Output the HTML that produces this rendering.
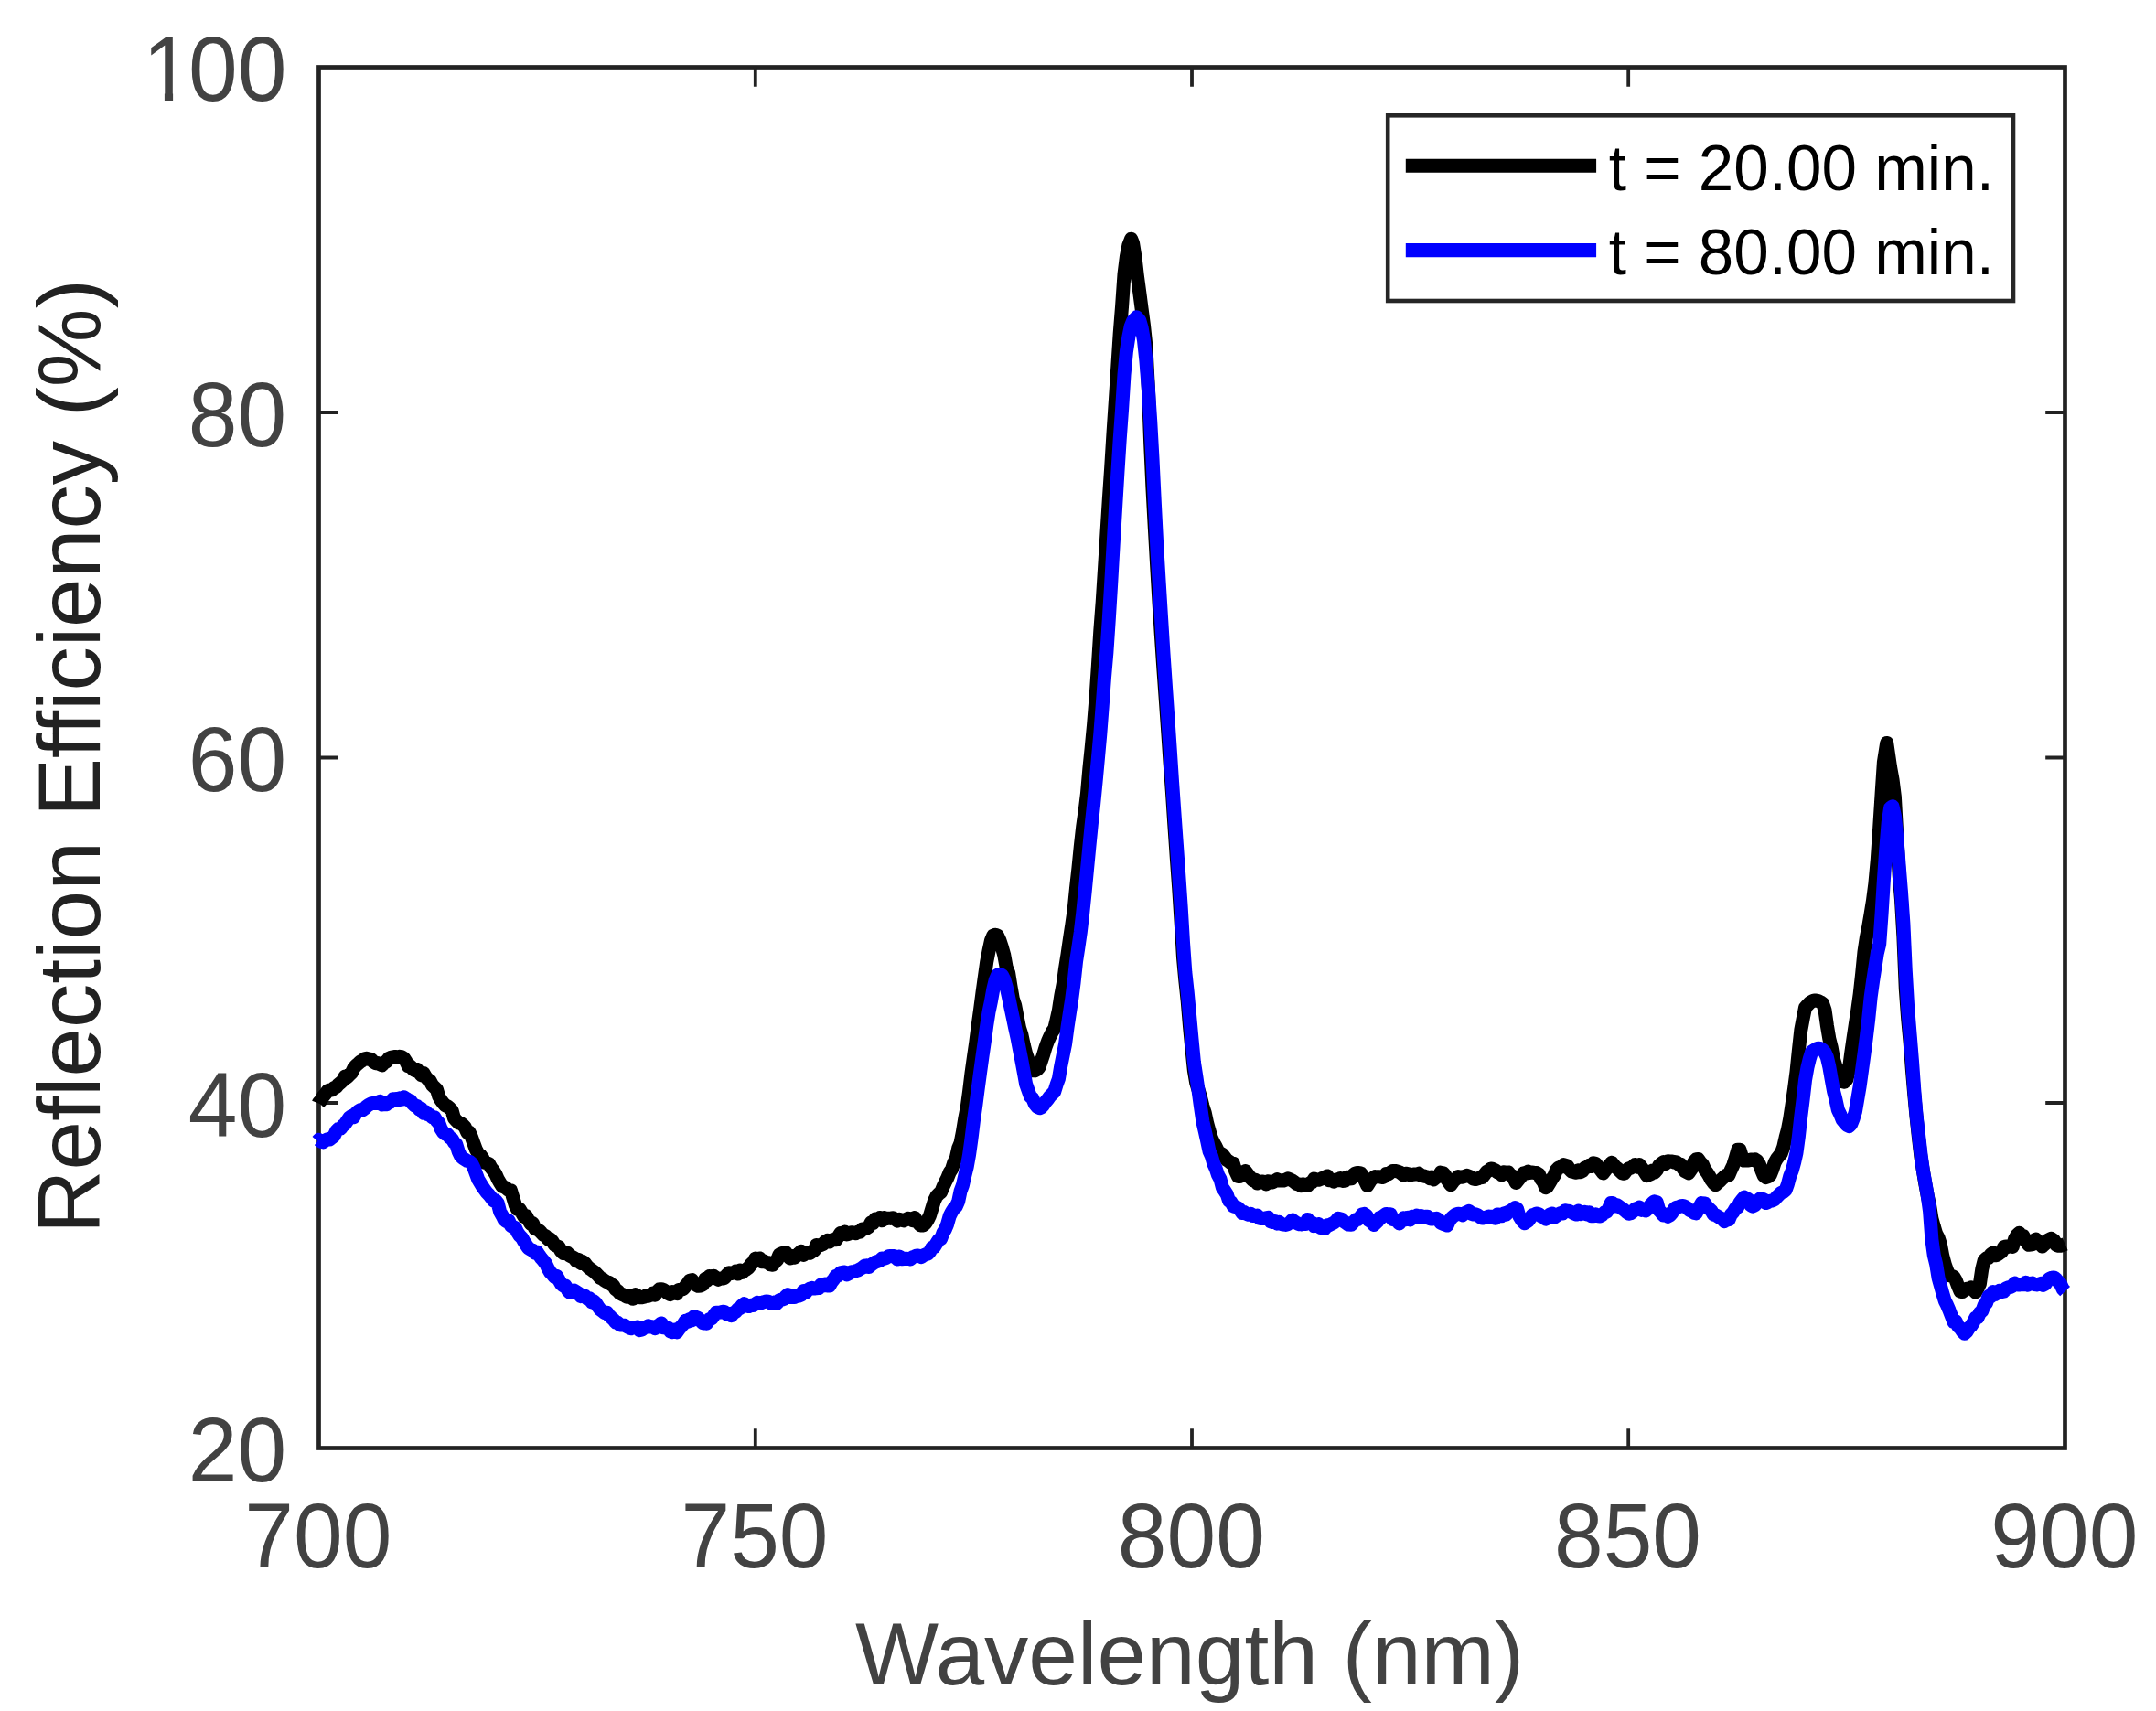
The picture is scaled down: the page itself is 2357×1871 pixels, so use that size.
<!DOCTYPE html>
<html lang="en"><head><meta charset="utf-8"><title>Reflection Efficiency vs Wavelength</title>
<style>
html,body{margin:0;padding:0;background:#fff;}
body{width:2357px;height:1871px;overflow:hidden;}
svg{display:block;}
text{font-family:"Liberation Sans",sans-serif;font-variant-ligatures:none;font-kerning:normal;}
.tk{font-size:96.5px;fill:#424242;}
.lg{font-size:69.2px;fill:#000;}
</style></head><body>
<svg width="2357" height="1871" viewBox="0 0 2357 1871">
<rect x="0" y="0" width="2357" height="1871" fill="#ffffff"/>

<rect x="348.5" y="73.5" width="1909.0" height="1510.0" fill="none" stroke="#222222" stroke-width="4.7"/>
<path d="M825.8,1583.5 v-21.3 M825.8,73.5 v21.3 M1303.0,1583.5 v-21.3 M1303.0,73.5 v21.3 M1780.2,1583.5 v-21.3 M1780.2,73.5 v21.3 M348.5,1206.0 h21.3 M2257.5,1206.0 h-21.3 M348.5,828.5 h21.3 M2257.5,828.5 h-21.3 M348.5,451.0 h21.3 M2257.5,451.0 h-21.3" fill="none" stroke="#222222" stroke-width="3.8"/>
<text class="tk" transform="translate(313.2,1620.0) scale(1,1.04)" text-anchor="end">20</text>
<text class="tk" transform="translate(313.2,1242.5) scale(1,1.04)" text-anchor="end">40</text>
<text class="tk" transform="translate(313.2,865.0) scale(1,1.04)" text-anchor="end">60</text>
<text class="tk" transform="translate(313.2,487.5) scale(1,1.04)" text-anchor="end">80</text>
<text class="tk" transform="translate(314,109.8) scale(1,1.04)" x="-158 -107.95 -54.28">100</text>
<path d="M158,101.6H179.9V112H158Z M189.1,101.6H208V112H189.1Z" fill="#ffffff"/>
<text class="tk" transform="translate(347.8,1713.7) scale(1,1.04)" text-anchor="middle">700</text>
<text class="tk" transform="translate(825.0,1713.7) scale(1,1.04)" text-anchor="middle">750</text>
<text class="tk" transform="translate(1302.3,1713.7) scale(1,1.04)" text-anchor="middle">800</text>
<text class="tk" transform="translate(1779.5,1713.7) scale(1,1.04)" text-anchor="middle">850</text>
<text class="tk" transform="translate(2256.8,1713.7) scale(1,1.04)" text-anchor="middle">900</text>
<text x="1300.5" y="1841.7" text-anchor="middle" font-size="96.5" fill="#424242">Wavelength (nm)</text>
<text transform="translate(108.8,827.2) rotate(-90)" text-anchor="middle" font-size="96.5" fill="#222222">Reflection Efficiency (%)</text>
<path d="M348.2,1206.5 L348.5,1205.7 L350.9,1203.2 L353.3,1199.1 L355.7,1196.2 L358.1,1193 L360.4,1192 L362.8,1192 L365.2,1189.6 L367.6,1188.7 L370,1185.8 L372.4,1183.9 L374.8,1181.6 L377.1,1177.1 L379.5,1178.1 L381.9,1175.4 L384.3,1173.2 L386.7,1168.1 L389.1,1165.2 L391.4,1163.3 L393.8,1161.1 L396.2,1159.7 L398.6,1157.8 L400.8,1157.3 L403.4,1158.5 L405.8,1158.3 L408.2,1161.1 L410.5,1162.7 L412.9,1162.5 L414.8,1163.6 L417.7,1164.8 L420.1,1161.8 L422.5,1160.9 L424.9,1157.5 L427.2,1156.3 L429.6,1155.8 L432,1155.4 L434.4,1155.8 L436.8,1155.3 L439.2,1155.7 L441.6,1157.3 L443.9,1160.7 L446.3,1165.8 L448.7,1165.8 L451.1,1168.9 L453.5,1170.6 L455.9,1169.4 L458.3,1172.7 L460.6,1175.7 L463,1173.4 L465.4,1177.7 L467.8,1180.3 L470.2,1182.1 L472.6,1186.6 L475,1189 L477.4,1191.2 L479.7,1198.9 L482.1,1203.1 L484.5,1206.3 L486.9,1209 L489.3,1209.7 L491.7,1211.9 L494.1,1214.4 L496.4,1222.5 L498.8,1225.3 L501.2,1227.8 L503.6,1228.3 L506,1230.1 L508.4,1232.7 L510.8,1238.2 L513.1,1238.2 L515.5,1243.6 L517.9,1250.3 L520.3,1256.9 L522.7,1261.3 L525.1,1263 L527.5,1266.2 L529.9,1271.4 L532.2,1271.7 L534.6,1272.7 L537,1277.2 L539.4,1280.1 L541.8,1283.8 L544.2,1289.3 L546.6,1293.4 L549,1297.3 L551.3,1298 L553.7,1299.6 L556.1,1301.7 L558.5,1301.8 L560.9,1309.9 L563.3,1317.8 L565.6,1322.3 L568,1322.2 L570.4,1326.2 L572.8,1330.3 L575.2,1329.5 L577.6,1334.1 L580,1338 L582.4,1337.5 L584.7,1343.5 L587.1,1344.4 L589.5,1345.6 L591.9,1348.2 L594.3,1350.6 L596.7,1351.8 L599.1,1355 L601.4,1354.8 L603.8,1357.2 L606.2,1361.4 L608.6,1362.5 L611,1363.6 L613.4,1368.1 L615.8,1370.6 L618.1,1369.9 L620.5,1370.2 L622.9,1373.1 L625.3,1374.4 L627.7,1375.5 L630.1,1379 L632.5,1377.3 L634.9,1381.4 L637.2,1379.5 L639.6,1381.5 L642,1384.7 L644.4,1387 L646.8,1388.6 L649.2,1390.3 L651.5,1392.4 L653.9,1394.8 L656.3,1397.5 L658.7,1398.4 L661.1,1400.4 L663.5,1401.9 L665.9,1402.4 L668.3,1404.6 L670.6,1405.9 L673,1410 L675.4,1411.7 L677.8,1414.3 L680.2,1415.5 L682.6,1416.5 L685,1418.2 L687.4,1417 L689.7,1418.2 L692.1,1420.3 L694.5,1415.6 L696.9,1416.9 L699.3,1418.7 L701.7,1418.8 L704,1418.2 L706.4,1416.8 L708.8,1417.3 L711.2,1415.9 L713.6,1414 L716,1416.2 L718.4,1412.4 L720.8,1409.8 L723.4,1409.8 L725.5,1410.4 L727.9,1412.2 L730.3,1414.5 L732.8,1415.6 L735.1,1412.7 L737.5,1413.9 L739.9,1414.6 L742.2,1410.4 L744.6,1410.1 L747,1409.6 L749.4,1406.4 L751.8,1403.6 L753.8,1400.4 L756.5,1399.5 L758.9,1403.3 L761.3,1405.3 L763.2,1406.3 L766.1,1406 L768.5,1404.7 L770.9,1398.3 L773.2,1400.1 L775.6,1395.4 L778,1397.8 L780.4,1395.3 L782.8,1397.7 L785.2,1399.3 L787.6,1397.9 L790,1398.1 L792.3,1397.3 L794.7,1394.1 L797.1,1391.7 L799.5,1392.5 L801.9,1391.8 L804.3,1390.1 L806.7,1393.1 L809,1389.1 L811.4,1391.6 L813.8,1389.3 L816.2,1387.9 L818.6,1386 L821,1382.6 L823.4,1380.6 L825.8,1376.1 L828.1,1377.3 L830.5,1375.9 L832.9,1379.6 L835.3,1379 L837.7,1380.3 L840.1,1380.7 L842.1,1382.9 L844.8,1383.2 L847.2,1380 L849.6,1377.8 L852,1371.7 L854.4,1370.8 L856.1,1370.3 L859.2,1369.8 L861.5,1373.7 L863.9,1376 L866.3,1373.4 L868.7,1375.3 L871.1,1372.8 L873.5,1370.6 L875.9,1368.2 L878.2,1372.4 L880.6,1370.4 L883,1369.6 L885.4,1370.4 L887.8,1368.7 L890.2,1367.4 L892.6,1361.5 L895,1362.2 L897.3,1361.5 L899.7,1360.5 L902.1,1357.8 L904.5,1356.4 L906.9,1357.9 L909.3,1356.1 L911.7,1355.3 L914,1355.8 L916.4,1352.3 L918.8,1348.6 L921.2,1349.5 L923.6,1346.9 L926,1349.9 L928.4,1349.1 L930.8,1347.7 L933.1,1348.2 L935.5,1348.7 L937.9,1346.9 L940.3,1347.3 L942.7,1344.1 L945.1,1344.1 L947.5,1343.2 L949.8,1341.6 L952.2,1337 L954.6,1337.4 L957,1332.9 L959.4,1333.2 L961.8,1331.5 L964.1,1334.8 L966.5,1331.5 L968.9,1332.7 L971.3,1332.2 L973.7,1332.4 L976.1,1331.7 L978.5,1332.9 L980.9,1335.2 L983.2,1333.3 L985.6,1334.2 L988,1334.9 L990.4,1333.6 L992.8,1332.2 L995.2,1332.8 L997.6,1334.7 L1000,1331.5 L1002.3,1335.4 L1006.2,1340 L1009.5,1339.9 L1011.9,1337.6 L1014.3,1333.7 L1016.6,1328.9 L1019,1321 L1021.4,1313.1 L1023.8,1308.2 L1026.2,1305.6 L1028.6,1303.8 L1031,1297.7 L1033.3,1292.9 L1035.7,1288.3 L1038.1,1282.2 L1040.5,1278.5 L1042.9,1271.1 L1045.3,1266.4 L1047.7,1255.7 L1050.1,1249.8 L1052.4,1238 L1054.8,1223.2 L1057.2,1210.9 L1059.6,1193.3 L1062,1173.3 L1064.4,1156.4 L1066.8,1139.9 L1069.2,1121 L1071.5,1104.6 L1073.9,1086.1 L1076.3,1068.8 L1078.7,1051.9 L1081.1,1039.5 L1083.5,1028.4 L1085.8,1023 L1088.2,1022.2 L1090.6,1023.2 L1093,1028.6 L1095.4,1035.9 L1097.8,1044.6 L1100.2,1057.9 L1102.6,1063.8 L1104.9,1078.1 L1107.3,1092 L1109.7,1099.3 L1112.1,1112 L1114.5,1123.9 L1116.9,1131.5 L1119.3,1142.7 L1121.7,1152.4 L1124,1158.8 L1126.4,1166.2 L1128.8,1170.7 L1131.2,1170.9 L1133.6,1169.8 L1136,1167 L1138.3,1160.3 L1140.7,1153.2 L1143.1,1145 L1145.5,1138.5 L1147.9,1133.1 L1150.3,1128.3 L1152.7,1125.1 L1155,1115.4 L1157.4,1104.7 L1159.8,1088.8 L1162.2,1076.2 L1164.6,1058.6 L1167,1043.6 L1169.4,1027 L1171.8,1011.3 L1174.1,995.2 L1176.5,971.2 L1178.9,949.7 L1181.3,925.6 L1183.7,904 L1186.1,887.1 L1188.5,867.5 L1190.8,841.2 L1193.2,817.8 L1195.6,792.4 L1198,763 L1200.4,727.8 L1202.8,689.7 L1205.2,658.3 L1207.5,622.4 L1209.9,584.1 L1212.3,546.3 L1214.7,511.1 L1217.1,472.2 L1219.5,436.6 L1221.9,399.7 L1224.2,364.5 L1226.6,334.6 L1229,300 L1231.4,280.7 L1233.8,268.5 L1236.6,261.2 L1238.6,266.1 L1241,281.1 L1243.3,301.3 L1245.7,319.2 L1248.1,337.6 L1250.5,355.8 L1252.9,378.2 L1255.3,423 L1257.7,485.8 L1260,534.6 L1262.4,578.8 L1264.8,621.1 L1267.2,661.2 L1269.6,698.1 L1272,733.2 L1274.4,766.6 L1276.8,800.8 L1279.1,834.4 L1281.5,867 L1283.9,903.1 L1286.3,938.1 L1288.7,971 L1291.1,1008 L1293.5,1047.3 L1295.8,1072.1 L1298.2,1094.6 L1300.6,1123.1 L1303,1147.7 L1305.4,1170.7 L1307.8,1184.6 L1310.2,1192.2 L1312.5,1199.7 L1314.9,1209.4 L1317.3,1217 L1319.7,1228.2 L1322.1,1237 L1324.5,1244.7 L1326.9,1249.9 L1329.2,1253.8 L1331.6,1259 L1334,1260.9 L1336.4,1262.3 L1338.8,1265.2 L1341.2,1268.6 L1343.6,1270 L1346,1272.1 L1348.3,1272.3 L1350.7,1280.6 L1353.4,1286.4 L1355.5,1286.4 L1357.9,1282.7 L1361.6,1280.6 L1365,1285.2 L1367.4,1288.4 L1369.8,1291 L1372.2,1290.4 L1374.6,1293.9 L1377,1293.3 L1379.4,1291.9 L1381.8,1292.4 L1384.1,1294.9 L1386.5,1291.7 L1388.9,1293.1 L1391.3,1293 L1393.7,1291.5 L1396.1,1289.7 L1398.5,1291 L1400.8,1290.7 L1403.2,1291.1 L1405.6,1290.1 L1408,1288.8 L1410.4,1289.9 L1412.8,1291 L1415.2,1292.8 L1417.5,1294.6 L1419.9,1295 L1422.3,1296.7 L1424.7,1294.9 L1427.1,1295.6 L1429.5,1296.5 L1431.9,1293.7 L1434.2,1293 L1436.6,1289.1 L1439,1289.7 L1441.4,1290.3 L1443.8,1289.5 L1446.2,1288.1 L1448.6,1287.4 L1451,1285.9 L1453.3,1290.7 L1455.7,1290.3 L1458.1,1292.2 L1460.5,1290 L1462.9,1290.8 L1465.3,1288.5 L1467.7,1291.4 L1470,1291.3 L1472.4,1287.3 L1474.8,1289.1 L1477.2,1288.8 L1479.6,1284.4 L1482,1282.8 L1484.4,1282.4 L1487.8,1282.9 L1491.5,1289.5 L1494.8,1296.5 L1498.7,1290.3 L1501.1,1288.1 L1503.5,1286.6 L1505.8,1286.8 L1508.2,1286.7 L1510.6,1287.6 L1513,1287 L1515.4,1283.6 L1517.8,1284 L1520.2,1282 L1522.5,1280.5 L1526.4,1280.6 L1529.7,1281.6 L1532.1,1283.2 L1534.5,1285.2 L1536.8,1283.2 L1539.2,1283.6 L1541.6,1284.9 L1544,1284.4 L1546.4,1284 L1548.8,1284.1 L1551.2,1283.2 L1553.6,1285.4 L1555.9,1285.8 L1558.3,1286.5 L1560.7,1287 L1563.1,1288.7 L1565.5,1287.1 L1567.3,1289.9 L1570.3,1287.3 L1572.7,1286.3 L1575,1282.2 L1577.8,1282.9 L1579.8,1285.1 L1582.2,1290.2 L1586,1295.8 L1589.3,1291.3 L1591.7,1289.3 L1594.1,1286.5 L1596.5,1287 L1598.9,1287.2 L1601.3,1286.4 L1603.7,1285.3 L1606,1286.3 L1608.4,1287.2 L1610.8,1289.2 L1613.2,1289.6 L1615.6,1288.9 L1618,1287.8 L1620.4,1287.5 L1622.8,1284.5 L1625.1,1281.4 L1627.5,1280.1 L1629.9,1278 L1631.6,1278.2 L1634.7,1279.7 L1637.1,1282 L1639.5,1281.9 L1641.8,1284.9 L1644.2,1281.7 L1646.6,1283.2 L1649,1281.9 L1651.4,1285.2 L1653.8,1286.1 L1657.3,1293.4 L1660.9,1289 L1663.3,1286 L1665.7,1282.8 L1668.1,1283.2 L1670.5,1281.1 L1672.9,1282.4 L1675.3,1282 L1677.6,1282.6 L1680,1282.5 L1682.4,1284.2 L1684.8,1289.5 L1687.2,1292.4 L1689.6,1298.7 L1691.2,1298.1 L1694.3,1293 L1696.7,1288.9 L1699.1,1285.5 L1701.5,1279.3 L1703.9,1277 L1706.3,1276.3 L1709.4,1273.6 L1711,1274.1 L1713.4,1274.9 L1715.8,1278.6 L1718.2,1281.2 L1721,1281.7 L1723,1282.3 L1725.4,1279.7 L1727.8,1281.7 L1730.1,1280.4 L1732.5,1277.2 L1734.9,1276.4 L1737.3,1274.3 L1739.7,1275.4 L1742.1,1271.9 L1744.4,1272.4 L1746.8,1275.5 L1749.2,1278.4 L1752.6,1282.9 L1756.4,1277.9 L1758.8,1275.3 L1762,1271.2 L1765.9,1276 L1768.3,1277.8 L1770.7,1280.2 L1773.6,1282.9 L1775.5,1283.3 L1777.9,1280.2 L1780.2,1278 L1782.6,1277.3 L1785,1275.9 L1787.4,1273.4 L1789.8,1276.3 L1792.2,1273.6 L1794.6,1276.7 L1797,1280 L1800.5,1285.7 L1804.1,1284.2 L1806.5,1280 L1808.9,1282.1 L1811.3,1279.5 L1813.7,1274.6 L1816,1272.5 L1818.4,1270.7 L1820.8,1272.7 L1823.2,1269.7 L1825.6,1269.9 L1828,1270 L1830.4,1271 L1832.8,1270.8 L1835.1,1273.4 L1837.5,1273.3 L1839.9,1277.7 L1842.3,1280.9 L1846.1,1282.9 L1849.5,1277.9 L1851.8,1270.7 L1854.3,1267.7 L1856.6,1267.5 L1859,1271.2 L1861.4,1273.5 L1863.8,1279.1 L1866.2,1282.1 L1868.5,1285.9 L1870.9,1290.4 L1873.3,1293.7 L1875.4,1295.8 L1878.1,1293.2 L1880.5,1291.2 L1882.9,1288.8 L1885.2,1286.6 L1887.6,1284.9 L1890,1285 L1892.4,1279.2 L1894.8,1274.1 L1897.2,1266.4 L1899.9,1257.2 L1902,1257.3 L1904.3,1264.7 L1906.7,1269.1 L1909.1,1269 L1911.5,1269.1 L1913.9,1267.9 L1916.3,1268.4 L1918.7,1267.8 L1921,1269.4 L1923.4,1273.2 L1925.8,1279.8 L1928.2,1285.5 L1930.6,1287.6 L1933,1286.7 L1935.4,1284.8 L1937.7,1279 L1940.1,1271.4 L1942.5,1267.1 L1944.9,1264 L1947.3,1261.1 L1949.7,1254.4 L1952.1,1243.8 L1954.5,1235 L1956.8,1222.9 L1959.2,1206.9 L1961.6,1190.3 L1964,1171.9 L1966.4,1148.6 L1968.8,1126.5 L1971.2,1113.7 L1973.5,1102 L1975.9,1099.2 L1978.3,1096.7 L1980.7,1095 L1983.1,1094.1 L1985.5,1094.1 L1987.8,1094.6 L1990.2,1095.7 L1992.6,1097.4 L1995,1104.4 L1997.4,1121.4 L1999.8,1135.8 L2002.2,1145.4 L2004.6,1158.6 L2006.9,1165.9 L2009.3,1172.5 L2011.7,1178.4 L2014.1,1182.6 L2016.5,1183.2 L2018.9,1180.4 L2021.3,1170 L2023.7,1151.7 L2026,1135.9 L2028.4,1119.9 L2030.8,1104.3 L2033.2,1087 L2035.6,1065.3 L2038,1040.8 L2040.3,1025.5 L2042.7,1013.6 L2045.1,999.4 L2047.5,984.8 L2049.9,966.3 L2052.3,940.3 L2054.7,905.2 L2057.1,868 L2059.4,833.3 L2062.7,812.4 L2066.6,839.1 L2069,852.3 L2071.4,871.3 L2073.8,913.6 L2076.2,957.2 L2078.5,983.9 L2080.9,1024.4 L2083.3,1081.6 L2085.7,1114.1 L2088.1,1139.6 L2090.5,1171 L2092.8,1197.4 L2095.2,1222.5 L2097.6,1245 L2100,1265.5 L2102.4,1280.1 L2104.8,1294.5 L2107.2,1307.4 L2109.6,1318.3 L2111.9,1332.4 L2114.3,1341.2 L2116.7,1349.2 L2119.1,1353.6 L2121.5,1361.1 L2123.9,1373.8 L2126.3,1382.7 L2128.6,1389.3 L2131,1394.9 L2133.4,1395.1 L2135.8,1396.1 L2138.2,1399.9 L2140.6,1406.4 L2143,1412.1 L2145.3,1412.6 L2147.7,1410.5 L2150.1,1409.3 L2152.5,1409.2 L2154.9,1407.8 L2157.3,1410 L2159.7,1413 L2162.1,1408.8 L2164.4,1403.8 L2166.8,1387.5 L2169.2,1378.1 L2171.6,1376 L2174,1375.6 L2176.4,1371.8 L2178.8,1370 L2181.1,1372.8 L2183.5,1372.3 L2185.9,1370.5 L2188.3,1369 L2190.7,1363.7 L2193.1,1362.9 L2195.5,1363.4 L2197.8,1362.4 L2200.2,1363.4 L2202.6,1354.9 L2205,1350.6 L2207.4,1348.3 L2209.8,1352.5 L2212.2,1351.9 L2214.6,1356.9 L2217.8,1361.3 L2221.7,1360.8 L2224.1,1355.8 L2225.7,1355.1 L2228.9,1358.2 L2232.7,1363 L2236,1360 L2238.4,1356.4 L2242.3,1354.3 L2245.6,1356.5 L2248,1361.5 L2250.3,1362.2 L2252.7,1362.2 L2255.1,1361.5 L2257.6,1360.4" fill="none" stroke="#000000" stroke-width="15" stroke-linejoin="round" stroke-linecap="butt"/>
<path d="M347.2,1247.8 L348.5,1246.3 L350.9,1248.2 L353.3,1248.9 L355.7,1247 L358.1,1245.8 L360.4,1245.9 L362.8,1244.1 L365.2,1242.2 L367.6,1236.9 L370,1234.3 L372.4,1234.1 L374.8,1231 L377.1,1229.3 L379.5,1225.8 L381.9,1222.2 L384.3,1220.3 L386.7,1221.7 L389.1,1217.3 L391.4,1215.3 L393.8,1213.7 L396.2,1213.9 L398.6,1212.3 L401,1209.7 L403.4,1208.1 L405.8,1206.8 L408.2,1206.3 L410.5,1206.6 L412.9,1206 L415.3,1204.2 L417.7,1208.1 L420.1,1206.1 L422.5,1207.7 L424.9,1205 L427.2,1204.9 L429.6,1201.8 L432,1201.6 L434.4,1203.6 L436.8,1201 L439.2,1202.2 L441.6,1199.7 L443.9,1201.2 L446.3,1202.9 L448.7,1203.7 L451.1,1206.9 L453.5,1209.1 L455.9,1209.5 L458.3,1213 L460.6,1212.6 L463,1217.3 L465.4,1215.7 L467.8,1218.7 L470.2,1219.3 L472.6,1221.9 L475,1221.7 L477.4,1225.8 L479.7,1227.7 L482.1,1234.4 L484.5,1238.1 L486.9,1240 L489.3,1240.5 L491.7,1244 L494.1,1245.3 L496.4,1249.2 L498.8,1251.4 L501.2,1259.2 L503.6,1264.2 L506,1266.4 L508.4,1268 L510.8,1269.4 L513.1,1270.1 L515.5,1271.9 L517.9,1276.6 L520.3,1283 L522.7,1289.6 L525.1,1293.6 L527.5,1297.6 L529.9,1301 L532.2,1304.2 L534.6,1306.5 L537,1309.6 L539.4,1312.9 L541.8,1312.6 L544.2,1315.6 L546.6,1325 L549,1329.2 L551.3,1333.8 L553.7,1335.8 L556.1,1334.8 L558.5,1340.3 L560.9,1341.8 L563.3,1342.5 L565.6,1347.4 L568,1351 L570.4,1353.3 L572.8,1357.5 L575.2,1361.2 L577.6,1364.7 L580,1366.3 L582.4,1367.1 L584.7,1370.1 L587.1,1368.9 L589.5,1372.7 L591.9,1376.1 L594.3,1378.8 L596.7,1381.9 L599.1,1387 L601.4,1391 L603.8,1393.3 L606.2,1396.4 L608.6,1395.3 L611,1399.5 L613.4,1403.8 L615.8,1406.1 L618.1,1406 L620.5,1410.7 L622.9,1413.2 L625.3,1412.6 L627.7,1411 L630.1,1412.5 L632.5,1414.2 L634.9,1417.5 L637.2,1416.6 L639.6,1417.1 L642,1420.2 L644.4,1419.7 L646.8,1423.9 L649.2,1422.8 L651.5,1425.1 L653.9,1428.8 L656.3,1432.1 L658.7,1433.7 L661.1,1435.7 L663.5,1435.2 L665.9,1438.6 L668.3,1440.8 L670.6,1442.8 L673,1446 L675.4,1446.3 L677.8,1448.9 L680.2,1448.9 L682.6,1449.2 L685,1450.5 L687.4,1451.6 L689.7,1452.7 L692.1,1451.5 L694.5,1452.1 L696.9,1450.9 L699.3,1454.6 L701.7,1454.2 L704,1451.9 L706.4,1451.2 L708.8,1449.8 L711.2,1451.1 L713.6,1450.8 L716,1452.7 L718.4,1450.1 L720.8,1448.6 L723.1,1446.9 L725.5,1451.9 L727.9,1452.1 L730.3,1452 L732.7,1456 L735.1,1456.6 L737.5,1453.9 L739.9,1456.9 L742.2,1453.5 L744.6,1450.6 L747,1448.1 L749.4,1444.3 L751.8,1445.4 L754.2,1442.3 L756.5,1443.8 L758.9,1439.5 L761.3,1440.4 L763.2,1441.4 L766.1,1444.3 L768.5,1446.9 L770.9,1445.3 L772.5,1447.2 L775.6,1442.7 L778,1441.9 L780.4,1438.7 L782.8,1435.3 L785.2,1435.3 L787.6,1435.1 L790,1434.2 L792.3,1434.7 L794.7,1437.1 L797.1,1436.5 L799.5,1438.7 L801.9,1435.7 L804.3,1434.4 L806.7,1431.5 L809,1430.5 L811.4,1427.3 L813.8,1425.6 L816.2,1428.2 L818.6,1428.6 L821,1427.3 L823.4,1427.6 L825.8,1425.9 L828.1,1424.4 L830.5,1425.2 L832.9,1424.5 L835.3,1423.6 L837.7,1422.9 L840.1,1423.1 L842.5,1425 L844.8,1425.2 L847.2,1423.9 L849.6,1425 L852,1421.8 L854.4,1420.9 L856.8,1420.7 L859.2,1417.5 L861.5,1415.6 L863.9,1418.6 L866.3,1416.4 L868.7,1418.4 L871.1,1416.8 L873.5,1417.1 L875.9,1416.1 L878.2,1411.6 L880.6,1413.8 L883,1410.6 L885.4,1409.1 L887.8,1408.3 L890.2,1409.1 L892.6,1408.7 L895,1408.6 L897.3,1405 L899.7,1406 L902.1,1403.9 L904.5,1405.9 L906.9,1406 L909.3,1401.6 L911.7,1398.7 L914,1395.2 L916.4,1394.9 L918.8,1391.9 L921.2,1391.3 L923.6,1391 L926,1393.8 L928.4,1392.6 L930.8,1390.7 L933.1,1390.6 L935.5,1389.8 L937.9,1389.1 L940.3,1387.6 L942.7,1386.4 L945.1,1384.2 L947.5,1383.8 L949.8,1385.6 L952.2,1383.3 L954.6,1381.6 L957,1380.1 L959.4,1379.3 L961.8,1378.5 L964.1,1376.1 L966.5,1376.2 L968.9,1375.5 L971.3,1373.8 L973.7,1373.5 L976.1,1373.4 L978.5,1373.9 L980.9,1377 L983.2,1374 L985.6,1376.8 L988,1376.5 L990.4,1376.3 L992.8,1376.5 L995.2,1377 L997.6,1374.8 L1000,1373.9 L1002.3,1372.9 L1004.7,1373.4 L1007.1,1374.6 L1009.5,1372.9 L1011.9,1371.8 L1014.3,1371.1 L1016.6,1368.6 L1019,1364.2 L1021.4,1363.5 L1023.8,1359.6 L1026.2,1355.9 L1028.6,1354.8 L1031,1348.1 L1033.3,1344.5 L1035.7,1338.6 L1038.1,1329.9 L1040.5,1325.1 L1042.9,1321.5 L1045.3,1319.1 L1047.7,1313.7 L1050.1,1302.3 L1052.4,1296.1 L1054.8,1285.6 L1057.2,1275.9 L1059.6,1262.5 L1062,1245.3 L1064.4,1225.6 L1066.8,1208.9 L1069.2,1190.4 L1071.5,1173.2 L1073.9,1155.7 L1076.3,1139.1 L1078.7,1121.5 L1081.1,1106.2 L1083.5,1094.7 L1085.8,1081.8 L1088.2,1071.7 L1090.6,1066.2 L1093,1065.4 L1095.4,1066.4 L1097.8,1071.2 L1100.2,1079.3 L1102.6,1090.4 L1104.9,1101.5 L1107.3,1112.8 L1109.7,1124.1 L1112.1,1135.1 L1114.5,1147.6 L1116.9,1159.8 L1119.3,1172.6 L1121.7,1185.8 L1124,1192.3 L1126.4,1199 L1128.8,1201 L1131.2,1206.9 L1133.6,1210.1 L1136.6,1211.8 L1138.3,1211.1 L1140.7,1208.4 L1143.1,1204.8 L1145.5,1202 L1147.9,1198.7 L1150.3,1196.3 L1152.7,1193.9 L1155,1186.3 L1157.4,1179.7 L1159.8,1165.6 L1162.2,1153.5 L1164.6,1141.5 L1167,1123.5 L1169.4,1107.6 L1171.8,1092.1 L1174.1,1074.3 L1176.5,1051.7 L1178.9,1035.9 L1181.3,1019.2 L1183.7,998.9 L1186.1,975.4 L1188.5,950.6 L1190.8,926.6 L1193.2,902.3 L1195.6,879.9 L1198,855.5 L1200.4,829.2 L1202.8,802.8 L1205.2,771.9 L1207.5,740.6 L1209.9,713 L1212.3,676.9 L1214.7,638.1 L1217.1,596.3 L1219.5,556.4 L1221.9,516.5 L1224.2,480.4 L1226.6,447.4 L1229,409.7 L1231.4,384.5 L1233.8,368.8 L1236.2,357 L1238.6,350.9 L1242.5,346.8 L1245.7,350.1 L1248.1,358.3 L1250.5,372.3 L1252.9,394.4 L1255.3,424.2 L1257.7,460.6 L1260,501.7 L1262.4,551.2 L1264.8,597.6 L1267.2,637.7 L1269.6,676.4 L1272,714.6 L1274.4,749.9 L1276.8,784.3 L1279.1,818.1 L1281.5,854.2 L1283.9,888.5 L1286.3,922.3 L1288.7,955.9 L1291.1,990.7 L1293.5,1030.6 L1295.8,1062.7 L1298.2,1084.7 L1300.6,1110.4 L1303,1136.5 L1305.4,1161.5 L1307.8,1176.9 L1310.2,1193.4 L1312.5,1210.3 L1314.9,1226.7 L1317.3,1237 L1319.7,1247.8 L1322.1,1259.2 L1324.5,1264.4 L1326.9,1272.9 L1329.2,1277.9 L1331.6,1285 L1334,1289.4 L1336.4,1298.7 L1338.8,1302.1 L1341.2,1305.8 L1343.6,1313.2 L1346,1314.7 L1348.3,1319.1 L1350.7,1319.5 L1353.1,1320.7 L1355.5,1323 L1357.9,1326.4 L1360.3,1325.6 L1362.7,1327.3 L1365,1328.3 L1367.4,1327.4 L1369.8,1329.5 L1372.2,1329.5 L1374.6,1329.1 L1377,1332.3 L1379.4,1332.5 L1381.8,1332.4 L1384.1,1331.8 L1386.5,1331.3 L1388.9,1335.8 L1391.3,1336.5 L1393.7,1335.6 L1396.1,1338 L1398.5,1336.5 L1400.8,1338.7 L1403.2,1339.1 L1405.6,1339.4 L1408,1338.6 L1410.4,1336.8 L1412.8,1334.1 L1415.2,1335.8 L1417.5,1337.4 L1419.9,1338.7 L1422.3,1338.9 L1424.7,1338.3 L1427.1,1338.5 L1429.5,1333.4 L1431.9,1336.8 L1434.2,1336.9 L1436.6,1340.7 L1439,1340.3 L1441.4,1338.5 L1443.8,1342.5 L1446.2,1341.8 L1448.6,1343.3 L1451,1339.8 L1453.3,1339.7 L1455.7,1338.4 L1458.1,1337.3 L1460.5,1335.3 L1462.9,1332.2 L1466.8,1333.2 L1470,1336.4 L1473.8,1339 L1477.2,1339.3 L1479.6,1336.6 L1482,1333.8 L1484.4,1333.6 L1486.7,1331.4 L1489.1,1328 L1491.3,1327.3 L1493.9,1329.1 L1496.3,1334.6 L1498.7,1335.4 L1501.9,1339.5 L1505.8,1335.8 L1508.2,1331.4 L1510.6,1331 L1513,1329.1 L1515.4,1327.4 L1518.2,1327.8 L1520.2,1327.8 L1522.5,1333.5 L1524.9,1333.7 L1527.3,1335.3 L1529.7,1337.9 L1532.1,1334.7 L1534.5,1331.8 L1536.8,1333.7 L1539.2,1331.3 L1541.6,1334 L1544,1330.2 L1546.4,1330.8 L1548.8,1329.2 L1551.2,1331.2 L1553.6,1329.6 L1555.9,1330.7 L1558.3,1330.3 L1560.7,1330.2 L1563.1,1332.6 L1565.5,1333.1 L1567.9,1332.7 L1570.3,1332.3 L1572.7,1333.7 L1575,1337.4 L1579,1339 L1582.2,1340.1 L1584.6,1334.6 L1587,1331.6 L1589.3,1329.6 L1591.7,1327.9 L1594.1,1327.2 L1596.5,1327.4 L1598.9,1328.8 L1601.3,1326.5 L1603.7,1325.6 L1606,1324.3 L1608.4,1327.3 L1610.8,1328 L1613.2,1327.7 L1615.6,1328.8 L1618,1330.7 L1620.4,1332.1 L1622.8,1331.5 L1625.1,1330.9 L1627.5,1330 L1629.9,1330.6 L1632.3,1330 L1634.7,1332.3 L1637.1,1328 L1639.5,1328.3 L1641.8,1329.5 L1644.2,1326.8 L1646.6,1328 L1649,1325.2 L1651.4,1324.3 L1653.8,1322.5 L1656.2,1320.6 L1658.5,1321.7 L1660.9,1330 L1663.3,1334 L1666.7,1337.8 L1670.5,1335.3 L1672.9,1332.1 L1675.3,1328.6 L1677.6,1328.2 L1680,1326.9 L1682.4,1327.6 L1684.8,1330 L1687.2,1330.7 L1690.1,1333.2 L1692,1330.1 L1694.3,1328.1 L1696.7,1327 L1699.1,1331.2 L1701.5,1329.6 L1703.9,1327.7 L1706.3,1326.5 L1708.7,1326.9 L1711,1323.8 L1713.4,1324.1 L1715.8,1324.5 L1718.2,1325.6 L1720.6,1327 L1723,1327.9 L1725.4,1324.1 L1727.8,1327.7 L1730.1,1325.8 L1732.5,1325.2 L1734.9,1328.1 L1737.3,1325.8 L1739.7,1329.7 L1742.1,1329.8 L1744.5,1327.9 L1746.8,1329.8 L1749.2,1329.9 L1751.6,1328.6 L1754,1325.9 L1756.4,1325.4 L1758.8,1321 L1761.2,1315.6 L1763.1,1315.6 L1765.9,1318.8 L1768.3,1317.9 L1770.7,1319.7 L1773.1,1321.5 L1775.5,1323.1 L1777.9,1325.2 L1780.7,1327.3 L1782.6,1326.8 L1785,1325.1 L1787.4,1322 L1789.8,1321.4 L1792.2,1320.1 L1794.6,1323.3 L1797,1322.5 L1799.3,1324.1 L1801.7,1321.1 L1804.1,1318.1 L1806.5,1315.5 L1808.7,1313.8 L1811.3,1314.6 L1813.7,1323.5 L1816,1325.8 L1818.4,1328.9 L1820.8,1328.1 L1823.2,1330.3 L1825.6,1328.9 L1828,1326.2 L1830.4,1321.8 L1832.8,1320.1 L1835.1,1319.9 L1837.5,1318.7 L1839.9,1318.5 L1842.3,1319.5 L1844.7,1321.1 L1847.1,1323.5 L1849.5,1324.4 L1851.8,1326.2 L1854.2,1326.9 L1856.6,1322.1 L1860.2,1315.6 L1863.8,1316 L1866.2,1319.9 L1868.5,1321.8 L1870.9,1324 L1873.3,1328.1 L1875.7,1328.7 L1878.1,1330.3 L1880.5,1331.7 L1882.9,1333.2 L1885.2,1335.7 L1887,1334.3 L1890,1333.7 L1892.4,1328.1 L1894.8,1325.6 L1897.2,1321.4 L1899.6,1320.1 L1902,1315.2 L1904.3,1312.1 L1906.9,1309.1 L1909.1,1310.4 L1911.5,1311.5 L1913.9,1318 L1916.3,1319.1 L1918.7,1317.7 L1921,1314.4 L1924.5,1310.5 L1928.2,1311.6 L1930.6,1315.5 L1933,1314.5 L1935.4,1313.2 L1937.7,1313 L1940.1,1311.7 L1942.5,1308.9 L1944.9,1306.5 L1947.3,1304.2 L1949.7,1303.3 L1952.1,1301.4 L1954.5,1294.7 L1956.8,1286 L1959.2,1279.9 L1961.6,1271.3 L1964,1260.5 L1966.4,1242.8 L1968.8,1221 L1971.2,1201.6 L1973.5,1181.3 L1975.9,1167.6 L1978.3,1157.7 L1980.7,1150.1 L1983.1,1148.5 L1985.5,1146.9 L1987.8,1146.2 L1990.2,1146.4 L1992.6,1148.1 L1995,1150.9 L1997.4,1156.2 L1999.8,1166.5 L2002.2,1180.3 L2004.6,1193.3 L2006.9,1202.4 L2009.3,1213.4 L2011.7,1218.4 L2014.1,1224.3 L2016.5,1227.4 L2018.9,1230.2 L2021.5,1231.5 L2023.7,1229.4 L2026,1223.5 L2028.4,1215.6 L2030.8,1201.7 L2033.2,1187.4 L2035.6,1169.9 L2038,1152.5 L2040.3,1134.8 L2042.7,1114.5 L2045.1,1090.7 L2047.5,1073.5 L2049.9,1057.8 L2052.3,1042.4 L2054.7,1032.5 L2057.1,999 L2059.4,962.1 L2061.8,928.8 L2064.2,899.4 L2066.6,883.5 L2069,881.7 L2071.4,892 L2073.8,915.2 L2076.2,947.3 L2078.5,975.9 L2080.9,1009.7 L2083.3,1061.5 L2085.7,1102.2 L2088.1,1131.3 L2090.5,1160.7 L2092.8,1192.4 L2095.2,1220.8 L2097.6,1241.3 L2100,1262.4 L2102.4,1280.1 L2104.8,1293 L2107.2,1307.2 L2109.6,1324.7 L2111.9,1355.5 L2114.3,1372.7 L2116.7,1382.6 L2119.1,1397.4 L2121.5,1406.1 L2123.9,1414.8 L2126.3,1422.6 L2128.6,1427.2 L2131,1432.8 L2133.4,1439.1 L2135.8,1445.4 L2138.2,1445 L2140.6,1450.2 L2143,1452.4 L2145.3,1455.8 L2147.7,1458.3 L2150.1,1456.2 L2152.5,1452.2 L2154.9,1449.8 L2157.3,1446.1 L2159.7,1441.2 L2162.1,1440.8 L2164.4,1435.6 L2166.8,1433.6 L2169.2,1427.1 L2171.6,1424.8 L2174,1417.3 L2176.4,1418 L2178.8,1412.6 L2181.1,1415.6 L2183.5,1413.1 L2185.9,1411.4 L2188.3,1412.6 L2190.7,1412.2 L2193.1,1408.8 L2195.5,1407.7 L2197.8,1407.6 L2200.2,1406.2 L2202.6,1403.1 L2205,1404.6 L2207.4,1405.1 L2209.8,1404.4 L2212.2,1404.8 L2214.6,1402.2 L2216.9,1405.3 L2219.3,1403.5 L2221.7,1403.1 L2224.1,1404.5 L2226.5,1404.9 L2228.9,1404.3 L2231.2,1403.4 L2233.6,1405.3 L2236,1404.1 L2238.4,1400.2 L2240.8,1398 L2243.2,1397.2 L2245.6,1396.9 L2248,1399 L2250.3,1401.7 L2252.7,1404.1 L2255.1,1409.5 L2257.6,1412.1" fill="none" stroke="#0000ff" stroke-width="15" stroke-linejoin="round" stroke-linecap="butt"/>
<rect x="1517.2" y="126.3" width="683.8" height="202.7" fill="#ffffff" stroke="#262626" stroke-width="4.6"/>
<path d="M1536.8,181.2 H1745.1" stroke="#000000" stroke-width="15.1" fill="none"/>
<path d="M1536.8,273.6 H1745.1" stroke="#0000ff" stroke-width="15.1" fill="none"/>
<text class="lg" transform="translate(1758.8,207.9) scale(1,1.005)">t = 20.00 min.</text>
<text class="lg" transform="translate(1758.8,300.0) scale(1,1.005)">t = 80.00 min.</text>
</svg></body></html>
